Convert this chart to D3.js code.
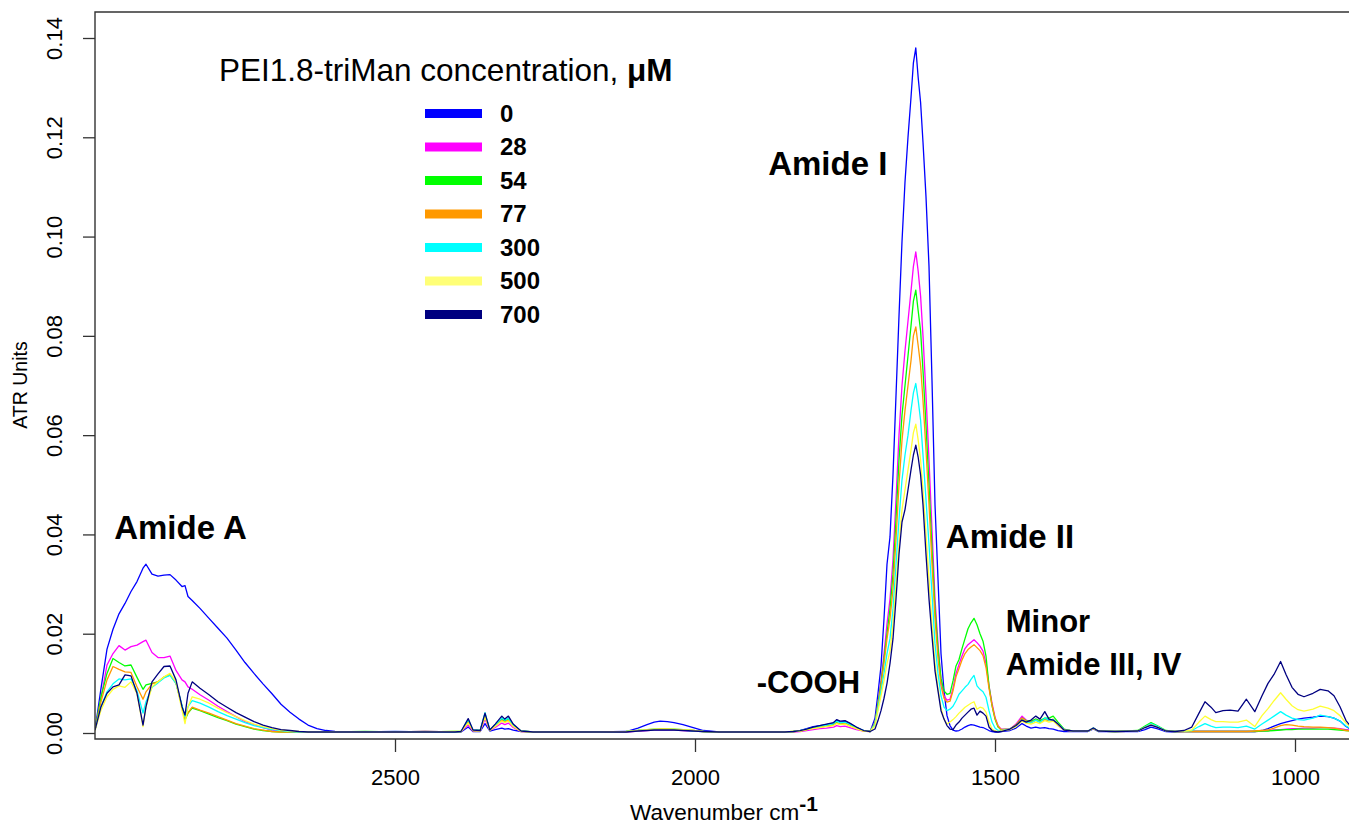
<!DOCTYPE html>
<html><head><meta charset="utf-8">
<script src="https://cdn.jsdelivr.net/npm/d3@7"></script>
<style>
body{margin:0;background:#fff}
svg{display:block}
text{font-family:"Liberation Sans",Arial,sans-serif;fill:#000}
</style>
</head><body>
<svg id="chart" width="1349" height="827"></svg>
<script>
// Wavenumber grid (cm^-1), shared by all spectra
const wavenumbers = [
3000,2990,2980,2970,2960,2950,2940,2930,2920,2915,2905,2895,2885,2875,2865,2855,2850,2845,2838,2825,2810,2795,2780,2765,2750,2735,2720,2705,2690,2675,2660,2645,2630,2615,2600,
2550,2500,2450,2400,
2390,2378,2370,2358,2350,2342,2333,2322,2317,2311,2303,2290,2270,
2220,2160,2115,2095,2080,2068,2058,2046,2035,2020,2003,1986,1960,1920,1880,1850,
1836,1825,1814,1803,1792,1781,1769,1764,1758,1750,1742,1731,1719,1708,
1700,1695,1690,1685,1680,1675,1670,1665,1660,1655,1650,1645,1640,1636,1632,1628,1624,1620,1615,1610,1605,1600,1595,1590,1585,1580,
1575,1570,1565,1560,1555,1550,1545,1540,1535,1530,1525,1520,1515,1510,1505,1500,1495,
1490,1475,1465,1455,1448,1440,1432,1425,1417,1410,1403,1395,1385,1370,
1345,1336,1328,1300,1262,1250,1240,1230,1215,1200,
1185,1172,1160,1150,1140,1132,1120,1108,1095,1081,1067,1055,1045,1035,1024,1015,1005,995,985,970,958,945,935,925,915,905,900];

// ATR absorbance, in units of 1e-4 ATR units
const conc0 = [
6,90,169,209,240,261,285,305,332,340,320,316,318,319,308,295,297,275,267,251,231,211,191,167,142,120,99,79,58,42,28,16,9,5,3,
2,2,3,2,
2,12,3,3,19,4,7,10,8,9,6,3,2,
2,2,3,10,17,22,24,23,21,17,11,5,2,2,2,2,
3,5,9,13,15,17,20,26,22,24,19,11,5,3,
30,80,135,230,340,395,520,680,840,990,1110,1200,1280,1350,1380,1320,1270,1190,1080,940,710,460,310,160,85,35,
15,6,4,5,8,12,15,17,16,14,12,11,8,5,3,2,2,
3,5,10,19,14,10,12,10,11,9,8,5,3,3,
3,8,3,3,3,7,12,9,3,2,
3,3,3,3,3,3,3,3,3,3,3,5,9,14,19,22,25,28,30,32,34,33,30,24,13,6,4];
const conc28 = [
6,70,137,160,176,167,174,177,184,187,162,152,152,155,126,107,103,93,88,77,66,54,43,33,23,17,11,6,4,2,2,2,2,2,2,
2,3,2,2,
3,16,4,4,28,5,11,20,17,20,11,3,2,
2,2,2,4,5,6,6,6,6,5,4,3,2,2,2,2,
2,3,5,7,9,10,12,15,13,14,11,7,4,3,
20,60,105,160,220,270,350,470,600,700,770,830,890,940,969,930,880,800,680,550,410,270,180,105,75,66,
68,90,120,138,155,170,178,183,188,182,175,165,140,95,60,32,15,
8,8,18,34,26,22,28,22,28,25,26,15,6,4,
4,10,4,3,4,12,18,13,4,3,
3,3,3,3,3,3,3,3,3,3,3,4,5,6,7,8,9,9,10,10,11,11,10,9,7,5,4];
const conc54 = [
6,73,120,150,142,135,137,112,88,97,100,103,112,117,101,53,26,40,50,45,38,31,25,18,13,8,5,3,2,2,2,2,2,2,2,
3,2,2,3,
3,24,5,5,37,6,15,28,24,29,15,4,2,
2,2,3,5,7,8,8,8,8,7,5,3,2,2,2,2,
3,4,7,10,12,14,17,21,18,20,16,10,5,3,
20,60,100,150,200,250,320,430,550,640,700,760,820,870,892,850,810,730,620,500,370,250,170,110,85,78,
80,105,135,148,170,190,210,222,231,218,200,185,155,95,55,28,12,
7,8,16,30,25,24,28,25,30,30,34,22,8,4,
4,10,4,3,5,14,21,15,5,3,
3,3,3,3,3,3,3,3,3,3,3,4,4,5,6,7,7,8,8,8,8,8,7,6,5,4,3];
const conc77 = [
6,63,107,134,128,123,122,93,68,83,99,103,113,117,100,53,30,41,52,46,40,33,26,19,14,9,6,3,2,2,2,2,2,2,2,
2,2,3,2,
3,22,5,5,34,6,14,26,22,26,14,4,2,
2,2,3,5,6,7,8,8,7,6,5,3,2,2,2,2,
3,4,7,10,12,14,16,20,18,19,15,9,4,3,
20,55,95,140,190,230,290,390,500,590,650,700,750,800,818,780,740,670,570,460,340,230,150,95,70,62,
64,85,113,130,147,160,168,173,178,172,166,156,132,90,56,30,14,
7,8,16,30,24,21,26,22,27,25,28,18,7,4,
4,9,4,3,4,12,18,13,4,3,
3,3,3,3,3,3,3,3,3,3,4,5,6,10,15,17,16,14,13,12,12,11,10,8,5,4,3];
const conc300 = [
6,53,83,99,109,107,109,85,40,63,92,101,111,116,100,56,33,53,65,60,52,43,35,28,21,15,11,7,5,3,2,2,2,2,2,
2,3,2,2,
3,27,6,5,41,6,16,30,26,30,16,4,2,
2,2,3,5,6,7,7,7,7,6,4,3,2,2,2,2,
3,5,8,11,14,16,19,24,21,22,18,11,5,3,
18,50,85,120,160,190,250,340,430,510,560,600,650,685,704,670,630,560,470,380,280,180,120,75,52,45,
48,54,65,78,85,92,98,108,116,95,88,83,72,45,22,10,5,
5,8,14,26,22,20,26,21,30,26,27,18,7,4,
4,10,4,3,4,12,19,14,4,3,
4,5,13,19,14,11,12,12,11,14,8,18,26,34,43,36,30,27,26,30,36,33,30,24,14,7,5];
const conc500 = [
5,46,73,88,95,92,103,79,13,53,93,103,113,120,103,46,19,53,73,68,60,50,41,33,25,18,13,9,6,4,3,2,2,2,2,
2,2,2,3,
3,20,5,4,32,5,13,24,21,24,13,3,2,
2,2,3,5,7,8,8,8,8,7,5,3,2,2,2,2,
3,4,7,9,11,13,15,19,17,18,14,9,4,3,
15,45,75,105,140,165,220,300,380,450,490,530,570,605,622,590,550,490,400,310,220,140,90,50,28,18,
22,27,33,40,46,52,56,60,63,48,52,50,42,22,8,4,3,
4,7,13,24,20,18,22,19,25,22,24,15,6,4,
4,9,4,3,4,11,17,12,4,3,
4,6,22,34,27,23,23,22,22,26,13,35,49,65,81,68,55,47,44,48,54,50,45,35,20,9,6];
const conc700 = [
6,53,80,93,97,117,115,80,16,53,103,119,134,135,107,53,36,80,103,90,77,63,52,41,32,23,16,11,7,5,3,2,2,2,2,
2,2,2,2,
3,29,6,5,40,6,18,34,28,34,18,4,2,
2,2,2,4,5,6,6,6,6,5,4,3,2,2,2,2,
3,5,8,12,15,18,21,27,24,25,20,12,5,3,
8,25,45,70,100,140,190,270,360,425,450,490,530,560,580,555,520,460,360,270,195,125,85,45,28,15,
8,7,16,22,30,36,42,48,50,36,44,40,34,12,5,3,2,
3,8,15,26,22,26,34,28,43,28,26,18,6,4,
4,10,4,3,4,11,16,12,4,3,
5,12,40,63,52,41,45,46,44,68,43,75,100,118,144,118,92,78,73,80,88,85,75,53,25,10,6];

const concentrations = ["0","28","54","77","300","500","700"];
const seriesValues = [conc0, conc28, conc54, conc77, conc300, conc500, conc700];
const seriesColors = ["#0000FF","#FF00FF","#00FF00","#FF9900","#00FFFF","#FFFF33","#000080"];
const legendColors = ["#0000FF","#FF00FF","#00FF00","#FF9900","#00FFFF","#FFFF77","#000080"];
const yTicks = [0,0.02,0.04,0.06,0.08,0.10,0.12,0.14];
const xTicks = [2500,2000,1500,1000];
const annotations = [
  {text:"Amide A", w:2968, v:0.0391, size:33},
  {text:"Amide I", w:1878, v:0.1125, size:33},
  {text:"Amide II", w:1582, v:0.0373, size:33},
  {text:"-COOH", w:1897, v:0.0081, size:31},
  {text:"Minor", w:1482, v:0.0204, size:31},
  {text:"Amide III, IV", w:1482, v:0.0117, size:31}
];

const svg = d3.select("#chart");
const L = 95, T = 12, B = 739, R = 1355;
const x = d3.scaleLinear().domain([3000, 900]).range([L, R]);
const y = d3.scaleLinear().domain([0, 0.14]).range([733, 38]);

svg.append("defs").append("clipPath").attr("id","clip")
  .append("rect").attr("x",L).attr("y",T).attr("width",R-L).attr("height",B-T);

// spectra
const line = d3.line().x(d => x(d[0])).y(d => y(d[1]));
const gl = svg.append("g").attr("clip-path","url(#clip)");
seriesValues.forEach((vals, k) => {
  const pts = wavenumbers.map((w, i) => [w, vals[i] / 1e4]);
  gl.append("path").datum(pts).attr("d", line)
    .attr("fill","none").attr("stroke", seriesColors[k])
    .attr("stroke-width", 1.3).attr("stroke-linejoin","round");
});

// frame
svg.append("path").attr("d", `M${R},${T}H${L}V${B}H${R}`)
  .attr("fill","none").attr("stroke","#333").attr("stroke-width",1.4);

// y axis
const gy = svg.append("g").attr("transform",`translate(${L},0)`)
  .call(d3.axisLeft(y).tickValues(yTicks).tickFormat(d3.format(".2f")).tickSize(12));
gy.select(".domain").remove();
gy.selectAll(".tick line").attr("stroke","#333").attr("stroke-width",1.3);
gy.selectAll(".tick text")
  .attr("x",null).attr("dy",null).attr("text-anchor","middle")
  .attr("transform","translate(-33,0) rotate(-90)")
  .style("font-size","22px").style("font-family","'Liberation Sans',Arial,sans-serif").attr("fill","#000");

// x axis
const gx = svg.append("g").attr("transform",`translate(0,${B})`)
  .call(d3.axisBottom(x).tickValues(xTicks).tickFormat(d3.format("d")).tickSize(13).tickPadding(17));
gx.select(".domain").remove();
gx.selectAll(".tick line").attr("stroke","#333").attr("stroke-width",1.3);
gx.selectAll(".tick text").style("font-size","22px")
  .style("font-family","'Liberation Sans',Arial,sans-serif").attr("fill","#000");

// axis titles
svg.append("text").attr("transform","translate(27,385) rotate(-90)")
  .attr("text-anchor","middle").style("font-size","19.5px").text("ATR Units");
const xt = svg.append("text").attr("x",630).attr("y",820).style("font-size","22.5px");
xt.append("tspan").text("Wavenumber cm");
xt.append("tspan").attr("dy",-9).style("font-size","21px").style("font-weight","bold").text("-1");

// annotations
annotations.forEach(a => {
  svg.append("text").attr("x", x(a.w)).attr("y", y(a.v))
    .style("font-size", a.size + "px").style("font-weight","bold").text(a.text);
});

// legend
const lg = svg.append("g");
const title = lg.append("text").attr("x",219).attr("y",81).style("font-size","31.5px");
title.append("tspan").text("PEI1.8-triMan concentration, ");
title.append("tspan").style("font-weight","bold").text("\u03BCM");
concentrations.forEach((c, i) => {
  const yy = 113.5 + i * 33.5;
  lg.append("line").attr("x1",425).attr("x2",482).attr("y1",yy).attr("y2",yy)
    .attr("stroke", legendColors[i]).attr("stroke-width",9);
  lg.append("text").attr("x",500).attr("y",yy).attr("dy","0.35em")
    .style("font-size","24px").style("font-weight","bold").text(c);
});
</script>
</body></html>
